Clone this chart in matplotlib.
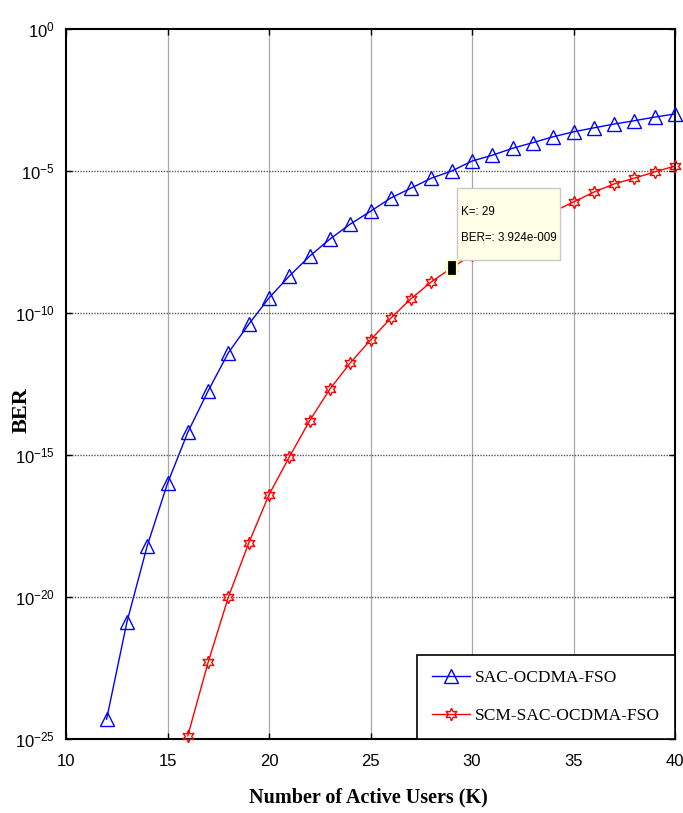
import numpy as np
import matplotlib
matplotlib.use("Agg")
import matplotlib.pyplot as plt
from matplotlib.patches import Rectangle
from matplotlib.transforms import ScaledTranslation

plt.rcParams['axes.unicode_minus'] = False

# Number of active users
users_sac = list(range(12, 41))
users_scm = list(range(16, 41))

# BER (log scale)
ber_sac = [5.0e-25, 1.3e-21, 6.3e-19, 1.0e-16, 6.3e-15, 1.8e-13, 4.0e-12,
           4.0e-11, 3.4e-10, 2.0e-9, 1.0e-8, 4.0e-8, 1.35e-7, 3.8e-7,
           1.12e-6, 2.5e-6, 5.6e-6, 1.0e-5, 2.24e-5, 3.6e-5, 6.3e-5,
           1.0e-4, 1.6e-4, 2.4e-4, 3.3e-4, 4.5e-4, 5.9e-4, 7.9e-4, 1.02e-3]
ber_scm = [1.3e-25, 5.0e-23, 1.0e-20, 7.9e-19, 4.0e-17, 8.5e-16, 1.6e-14,
           2.1e-13, 1.74e-12, 1.12e-11, 6.6e-11, 3.2e-10, 1.26e-9, 3.924e-9,
           1.12e-8, 2.95e-8, 7.1e-8, 1.66e-7, 3.7e-7, 8.1e-7, 1.8e-6,
           3.5e-6, 5.6e-6, 9.3e-6, 1.5e-5]

x_ticks = [10, 15, 20, 25, 30, 35, 40]
y_ticks = [1e-25, 1e-20, 1e-15, 1e-10, 1e-5, 1e0]

tip_k = 29
tip_ber = 3.924e-9
tip_lines = ["K=: 29", "BER=: 3.924e-009"]

fig = plt.figure(figsize=(6.83, 8.13), dpi=100)
ax = fig.add_axes([66 / 683, 74 / 813, 609 / 683, 710 / 813])

ax.set_yscale("log")
ax.set_xlim(10, 40)
ax.set_ylim(1e-25, 1e0)

# grid: vertical solid gray, horizontal dotted dark
for xv in x_ticks[1:-1]:
    ax.axvline(xv, color="#a8a8a8", lw=0.9, zorder=0)
for yv in y_ticks[1:-1]:
    ax.axhline(yv, color="#555555", lw=1.0, ls=(0, (1, 1)), zorder=0)

hexagram = (6, 1, 0)
ax.plot(users_sac, ber_sac, color="blue", lw=1, marker="^", ms=10,
        mfc="none", mec="blue", mew=1, label="SAC-OCDMA-FSO", zorder=3,
        clip_on=False)
ax.plot(users_scm, ber_scm, color="red", lw=1, marker=hexagram, ms=9,
        mfc="none", mec="red", mew=1, label="SCM-SAC-OCDMA-FSO", zorder=3,
        clip_on=False)

# data tip (box placed in pixels relative to the picked point)
tall_square = [(-0.6, -1), (0.6, -1), (0.6, 1), (-0.6, 1), (-0.6, -1)]
ax.plot([tip_k], [tip_ber], marker=tall_square, ms=11, color="black",
        mec="#ffffc8", mew=1.6, zorder=7, clip_on=False)
tip_tr = ScaledTranslation(tip_k, tip_ber, ax.transData)
ax.add_patch(Rectangle((5, 8), 103, 72, transform=tip_tr, fc="#ffffe8",
                       ec="#c8c8c8", lw=1, zorder=6, clip_on=False))
ax.text(9, 56, tip_lines[0], transform=tip_tr, ha="left", va="center",
        family="Liberation Sans", fontsize=8.4, zorder=7)
ax.text(9, 30, tip_lines[1], transform=tip_tr, ha="left", va="center",
        family="Liberation Sans", fontsize=8.4, zorder=7)

ax.set_xticks(x_ticks)
ax.set_yticks(y_ticks)
ax.yaxis.set_minor_locator(matplotlib.ticker.NullLocator())
ax.tick_params(direction="in", length=4, width=1, top=True, right=True,
               labelsize=12)
ax.tick_params(axis="x", pad=11)
ax.tick_params(axis="y", pad=8)
for lab in ax.get_xticklabels() + ax.get_yticklabels():
    lab.set_family("Liberation Sans")

for sp in ax.spines.values():
    sp.set_linewidth(1.5)

leg = ax.legend(loc="lower right", borderaxespad=0, fancybox=False,
                framealpha=1, edgecolor="black", handlelength=2.2,
                handletextpad=0.3, prop={"family": "Liberation Serif", "size": 12.5},
                borderpad=0.85, labelspacing=1.25)
leg.get_frame().set_linewidth(1.2)
leg.set_zorder(10)

fig.text(368 / 683, 1 - 797 / 813, "Number of Active Users (K)",
         ha="center", va="center", family="Liberation Serif",
         fontweight="bold", fontsize=14.5)
fig.text(22 / 683, 1 - 410 / 813, "BER", rotation=90, ha="center",
         va="center", family="Liberation Serif", fontweight="bold", fontsize=16)

fig.savefig("out.png", dpi=100)
